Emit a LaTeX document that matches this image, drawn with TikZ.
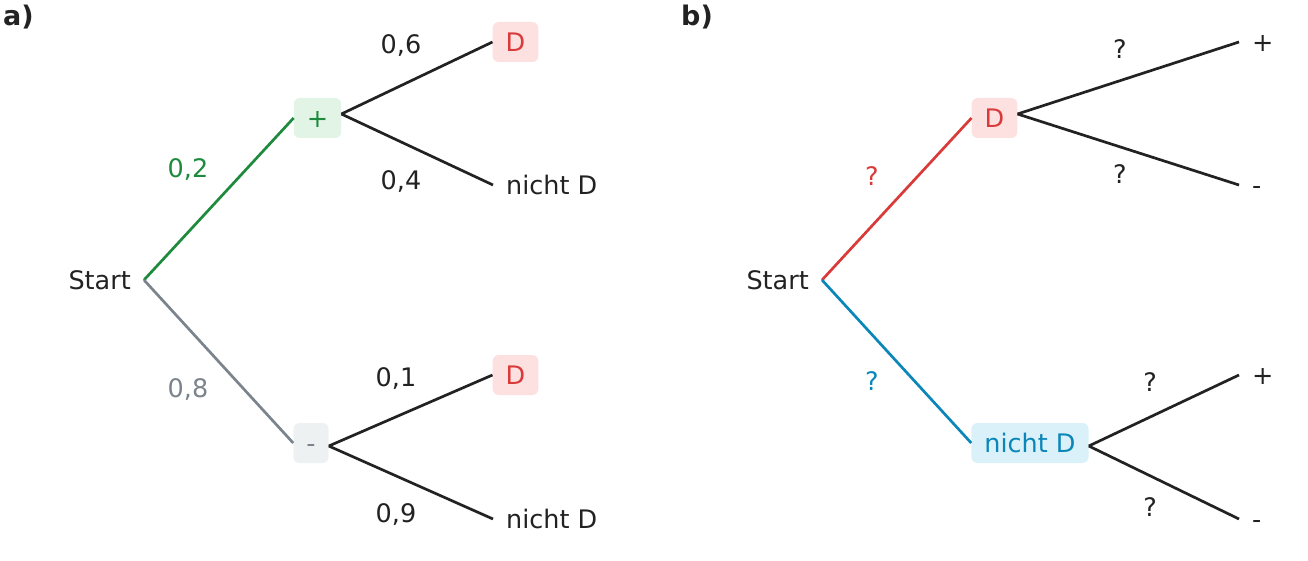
\documentclass[tikz,border=0pt]{standalone}
\usepackage{fontspec}
\setmainfont{DejaVu Sans}

\definecolor{ink}{HTML}{222222}
\definecolor{probgreen}{HTML}{1E8A3E}
\definecolor{boxgreen}{HTML}{E2F4E5}
\definecolor{dred}{HTML}{D93A3A}
\definecolor{boxred}{HTML}{FDE1E1}
\definecolor{slate}{HTML}{7B848C}
\definecolor{boxslate}{HTML}{EEF1F2}
\definecolor{ndblue}{HTML}{0A86B8}
\definecolor{boxblue}{HTML}{DAF1F9}

\begin{document}
\begin{tikzpicture}[x=1pt, y=-1pt, font=\fontsize{25.5}{30}\selectfont, text=ink,
    box/.style={rounded corners=6pt, inner xsep=13pt, inner ysep=0pt, minimum height=40pt, text height=18.5pt, text depth=0pt},
    leaf/.style={inner xsep=13pt, inner ysep=0pt, text height=18.5pt, text depth=0pt},
    prob/.style={inner sep=0pt, text height=18.5pt, text depth=0pt},
    branch/.style={line width=2.7pt, color=ink}]
    \useasboundingbox (0, 0) rectangle (1308, 561);

    \node[anchor=west, inner sep=0pt, font=\fontsize{27}{30}\selectfont\bfseries] (labA) at (3, 17) {a)};
    \node[leaf, anchor=east] (startA) at (144, 280) {Start};
    \node[box, fill=boxgreen, text=probgreen] (plusA) at (317.5, 118) {+};
    \node[box, fill=boxslate, text=slate] (minusA) at (311, 443) {-};
    \node[box, fill=boxred, text=dred] (dA1) at (515.5, 42) {D};
    \node[leaf, anchor=west] (ndA1) at (493, 185) {nicht D};
    \node[box, fill=boxred, text=dred] (dA2) at (515.5, 375) {D};
    \node[leaf, anchor=west] (ndA2) at (493, 519) {nicht D};

    \draw[branch, color=probgreen] (startA.east) -- (plusA.west);
    \draw[branch, color=slate] (startA.east) -- (minusA.west);
    \draw[branch] ([yshift=4pt]plusA.east) -- (dA1.west);
    \draw[branch] ([yshift=4pt]plusA.east) -- (ndA1.west);
    \draw[branch] ([yshift=-3pt]minusA.east) -- (dA2.west);
    \draw[branch] ([yshift=-3pt]minusA.east) -- (ndA2.west);

    \node[prob, text=probgreen] (pA1) at (188, 168) {0,2};
    \node[prob, text=slate] (pA2) at (188, 388) {0,8};
    \node[prob] (pA3) at (401, 44) {0,6};
    \node[prob] (pA4) at (401, 180) {0,4};
    \node[prob] (pA5) at (396, 377) {0,1};
    \node[prob] (pA6) at (396, 513) {0,9};

    \node[anchor=west, inner sep=0pt, font=\fontsize{27}{30}\selectfont\bfseries] (labB) at (681, 17) {b)};
    \node[leaf, anchor=east] (startB) at (822, 280) {Start};
    \node[box, fill=boxred, text=dred] (dB) at (994.5, 118) {D};
    \node[box, fill=boxblue, text=ndblue] (ndB) at (1030, 443) {nicht D};
    \node[leaf, anchor=west] (plusB1) at (1239, 42) {+};
    \node[leaf, anchor=west] (minusB1) at (1239, 185) {-};
    \node[leaf, anchor=west] (plusB2) at (1239, 375) {+};
    \node[leaf, anchor=west] (minusB2) at (1239, 519) {-};

    \draw[branch, color=dred] (startB.east) -- (dB.west);
    \draw[branch, color=ndblue] (startB.east) -- (ndB.west);
    \draw[branch] ([yshift=4pt]dB.east) -- (plusB1.west);
    \draw[branch] ([yshift=4pt]dB.east) -- (minusB1.west);
    \draw[branch] ([yshift=-3pt]ndB.east) -- (plusB2.west);
    \draw[branch] ([yshift=-3pt]ndB.east) -- (minusB2.west);

    \node[prob, text=dred] (pB1) at (872, 176) {?};
    \node[prob, text=ndblue] (pB2) at (872, 381) {?};
    \node[prob] (pB3) at (1120, 49) {?};
    \node[prob] (pB4) at (1120, 174) {?};
    \node[prob] (pB5) at (1150, 382) {?};
    \node[prob] (pB6) at (1150, 507) {?};
\end{tikzpicture}
\end{document}
